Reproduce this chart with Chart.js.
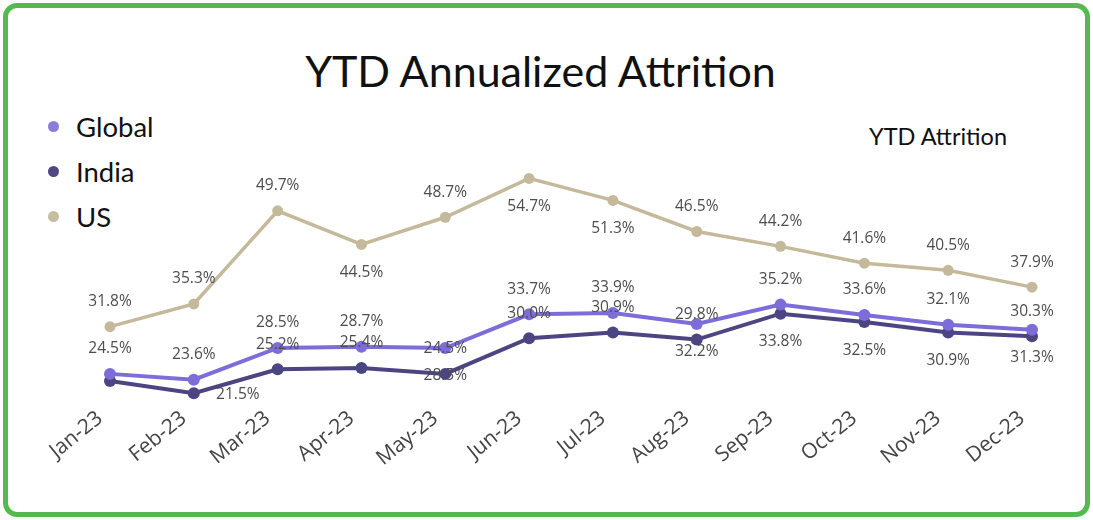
<!DOCTYPE html>
<html>
<head>
<meta charset="utf-8">
<script src="https://cdn.jsdelivr.net/npm/chart.js@4.4.1/dist/chart.umd.min.js"></script>
<style>
  html, body { margin: 0; padding: 0; background: #fff; }
  #wrap { position: relative; width: 1093px; height: 520px; overflow: hidden; }
  #card {
    position: absolute; left: 3px; top: 3px; width: 1087px; height: 514px;
    box-sizing: border-box; border: 5px solid #55b94f; border-radius: 14px;
  }
  #title {
    position: absolute; left: -6px; width: 1093px; top: 45px; text-align: center;
    font-family: Lato, sans-serif; font-size: 43px; color: #111;
  }
  #sub {
    position: absolute; left: 869px; top: 122px;
    font-family: Lato, sans-serif; font-size: 23.5px; color: #111;
  }
  .leg { position: absolute; left: 48px; font-family: Lato, sans-serif; font-size: 27.5px; color: #111; }
  .leg i { display: inline-block; width: 11px; height: 11px; border-radius: 50%; margin-right: 17px; vertical-align: 5px; }
  canvas { position: absolute; left: 0; top: 0; }
</style>
</head>
<body>
<div id="wrap">
  <div id="card"></div>
  <div id="title">YTD Annualized Attrition</div>
  <div id="sub">YTD Attrition</div>
  <div id="legend"></div>
  <canvas id="c" width="1093" height="520"></canvas>
</div>
<script>
var months = ['Jan-23', 'Feb-23', 'Mar-23', 'Apr-23', 'May-23', 'Jun-23', 'Jul-23', 'Aug-23', 'Sep-23', 'Oct-23', 'Nov-23', 'Dec-23'];
var globalVals = [24.5, 23.6, 28.5, 28.7, 28.5, 33.7, 33.9, 32.2, 35.2, 33.6, 32.1, 31.3];
var indiaVals  = [23.4, 21.5, 25.2, 25.4, 24.5, 30.0, 30.9, 29.8, 33.8, 32.5, 30.9, 30.3];
var usVals     = [31.8, 35.3, 49.7, 44.5, 48.7, 54.7, 51.3, 46.5, 44.2, 41.6, 40.5, 37.9];

// onde fica cada rotulo: a = acima, b = abaixo, r = direita, '' = sem rotulo
var globalPos = ['a', 'a', 'a', 'a', 'b', 'a', 'a', 'b', 'a', 'a', 'a', 'b'];
var indiaPos  = ['',  'r', 'a', 'a', 'a', 'a', 'a', 'a', 'b', 'b', 'b', 'a'];
var usPos     = ['a', 'a', 'a', 'b', 'a', 'b', 'b', 'a', 'a', 'a', 'a', 'a'];

var series = [
  { label: 'Global', data: globalVals, pos: globalPos, color: '#7d6dd8', legend: '#8b7bdb', width: 4, r: 6 },
  { label: 'India',  data: indiaVals,  pos: indiaPos,  color: '#4b4582', legend: '#4f4983', width: 4, r: 6 },
  { label: 'US',     data: usVals,     pos: usPos,     color: '#c4b99a', legend: '#c6bea0', width: 3.5, r: 5.5 }
];

// legenda em html
var leg = document.getElementById('legend');
for (var k = 0; k < series.length; k++) {
  var d = document.createElement('div');
  d.className = 'leg';
  d.style.top = (110 + k * 45) + 'px';
  d.innerHTML = '<i style="background:' + series[k].legend + '"></i>' + series[k].label;
  leg.appendChild(d);
}

var rotulos = {
  id: 'rotulos',
  afterDatasetsDraw: function (chart) {
    var ctx = chart.ctx;
    ctx.save();
    ctx.font = '15.5px "Open Sans", sans-serif';
    ctx.fillStyle = '#4d4d4d';
    ctx.textAlign = 'center';
    ctx.textBaseline = 'middle';
    chart.data.datasets.forEach(function (ds, di) {
      var meta = chart.getDatasetMeta(di);
      var pos = series[di].pos;
      meta.data.forEach(function (pt, i) {
        var p = pos[i];
        if (!p) return;
        var x = pt.x, y = pt.y;
        if (p === 'a') y -= 25;
        else if (p === 'b') y += 28;
        else if (p === 'r') { x += 44; y += 1; }
        ctx.fillText(ds.data[i].toFixed(1) + '%', x, y);
      });
    });
    ctx.restore();
  }
};

new Chart(document.getElementById('c'), {
  type: 'line',
  data: {
    labels: months,
    datasets: series.map(function (s) {
      return {
        label: s.label, data: s.data,
        borderColor: s.color, backgroundColor: s.color,
        pointBackgroundColor: s.color, pointBorderColor: s.color,
        borderWidth: s.width, pointRadius: s.r, pointBorderWidth: 0,
        tension: 0, fill: false, clip: false
      };
    })
  },
  options: {
    responsive: false, animation: false,
    layout: { padding: { left: 110, right: 61, top: 170, bottom: 40 } },
    plugins: { legend: { display: false }, tooltip: { enabled: false } },
    scales: {
      x: {
        grid: { display: false, drawTicks: false }, border: { display: false },
        ticks: { color: '#444', font: { family: '"Open Sans", sans-serif', size: 21 }, minRotation: 39, maxRotation: 39, padding: 3, labelOffset: -10 },
        afterFit: function (sc) { sc.height = 77; }
      },
      y: { display: false, min: 20, max: 56 }
    }
  },
  plugins: [rotulos]
});
</script>
</body>
</html>
